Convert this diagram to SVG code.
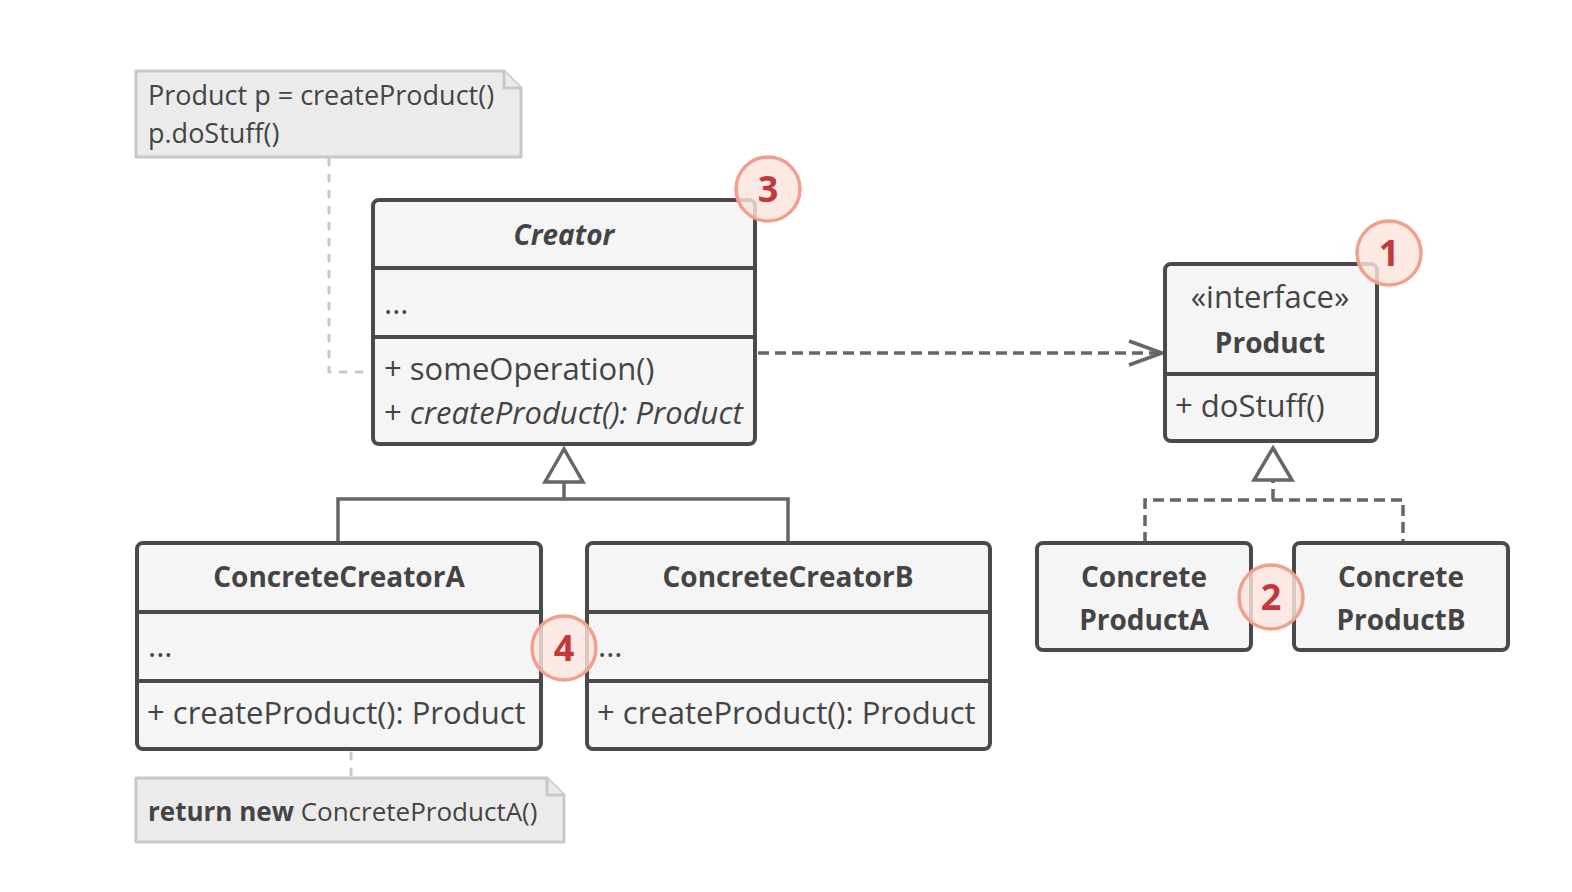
<svg xmlns="http://www.w3.org/2000/svg" width="1572" height="892" viewBox="0 0 1572 892">
<style>
.box{fill:#f5f5f5;stroke:#4a4a4a;stroke-width:4}
.div{stroke:#4a4a4a;stroke-width:4}
.note{fill:#ebebeb;stroke:#c8c8c8;stroke-width:3;stroke-linejoin:round}
.t{font-family:"Open Sans","Noto Sans",sans-serif;fill:#444;font-size:31px}
.b{font-weight:bold;font-size:28px}
.c{text-anchor:middle}
.i{font-style:italic}
.nt{font-size:27px}
.nb{font-size:26px}
.line{fill:none;stroke:#666;stroke-width:3.5}
.dash{stroke-dasharray:11 6}
.ndash{fill:none;stroke:#c8c8c8;stroke-width:3;stroke-dasharray:6 10;stroke-linecap:round}
.tri{fill:#fff;stroke:#666;stroke-width:3.5;stroke-linejoin:miter}
.badge circle{fill:#fbe4de;fill-opacity:0.82;stroke:#f0a08c;stroke-width:3.5}
.badge text{font-family:"Open Sans","Noto Sans",sans-serif;font-weight:bold;font-size:36px;fill:#c3383c;text-anchor:middle}
</style>

<g id="connectors">
  <path class="ndash" d="M329,159 V372 H366"/>
  <path class="ndash" d="M351,753 V777"/>
  <path class="line" d="M338,543 V499 H788 V543 M564,499 V482"/>
  <polygon class="tri" points="564,449 545,482 583,482"/>
  <path class="line dash" d="M1145,543 V500 H1403 V543 M1273,500 V480"/>
  <polygon class="tri" points="1273,448 1254,480 1292,480"/>
  <path class="line dash" d="M758,353 H1158"/>
  <path class="line" d="M1129,341 L1162,353 L1129,365"/>
</g>

<g id="note-top">
  <path class="note" d="M136,71 H504 L521,88 V157 H136 Z"/>
  <path class="note" d="M504,71 V88 H521"/>
  <text class="t nt" x="148" y="105">Product p = createProduct()</text>
  <text class="t nt" x="148" y="143">p.doStuff()</text>
</g>

<g id="creator">
  <rect class="box" x="373" y="200" width="382" height="244" rx="6"/>
  <line class="div" x1="373" y1="268" x2="755" y2="268"/>
  <line class="div" x1="373" y1="337" x2="755" y2="337"/>
  <text class="t b i c" x="564" y="245">Creator</text>
  <text class="t" x="384" y="314">...</text>
  <text class="t" x="384" y="380">+ someOperation()</text>
  <text class="t" x="384" y="424">+ <tspan class="i">createProduct(): Product</tspan></text>
</g>

<g id="product">
  <rect class="box" x="1165" y="264" width="212" height="177" rx="6"/>
  <line class="div" x1="1165" y1="374" x2="1377" y2="374"/>
  <text class="t c" x="1270" y="308">«interface»</text>
  <text class="t b c" x="1270" y="353">Product</text>
  <text class="t" x="1175" y="417">+ doStuff()</text>
</g>

<g id="concrete-product-a">
  <rect class="box" x="1037" y="543" width="214" height="107" rx="6"/>
  <text class="t b c" x="1144" y="587">Concrete</text>
  <text class="t b c" x="1144" y="630">ProductA</text>
</g>

<g id="concrete-product-b">
  <rect class="box" x="1294" y="543" width="214" height="107" rx="6"/>
  <text class="t b c" x="1401" y="587">Concrete</text>
  <text class="t b c" x="1401" y="630">ProductB</text>
</g>

<g id="concrete-creator-a">
  <rect class="box" x="137" y="543" width="404" height="206" rx="6"/>
  <line class="div" x1="137" y1="612" x2="541" y2="612"/>
  <line class="div" x1="137" y1="681" x2="541" y2="681"/>
  <text class="t b c" x="339" y="587">ConcreteCreatorA</text>
  <text class="t" x="148" y="657">...</text>
  <text class="t" x="147" y="724">+ createProduct(): Product</text>
</g>

<g id="concrete-creator-b">
  <rect class="box" x="587" y="543" width="403" height="206" rx="6"/>
  <line class="div" x1="587" y1="612" x2="990" y2="612"/>
  <line class="div" x1="587" y1="681" x2="990" y2="681"/>
  <text class="t b c" x="788" y="587">ConcreteCreatorB</text>
  <text class="t" x="598" y="657">...</text>
  <text class="t" x="597" y="724">+ createProduct(): Product</text>
</g>

<g id="note-bottom">
  <path class="note" d="M136,778 H547 L564,795 V842 H136 Z"/>
  <path class="note" d="M547,778 V795 H564"/>
  <text class="t nb" x="148" y="821"><tspan font-weight="bold">return new</tspan> ConcreteProductA()</text>
</g>

<g id="badge-1" class="badge"><circle cx="1389" cy="253" r="32"/><text x="1389" y="266">1</text></g>
<g id="badge-2" class="badge"><circle cx="1271" cy="597" r="32"/><text x="1271" y="610">2</text></g>
<g id="badge-3" class="badge"><circle cx="768" cy="189" r="32"/><text x="768" y="202">3</text></g>
<g id="badge-4" class="badge"><circle cx="564" cy="648" r="32"/><text x="564" y="661">4</text></g>
</svg>
